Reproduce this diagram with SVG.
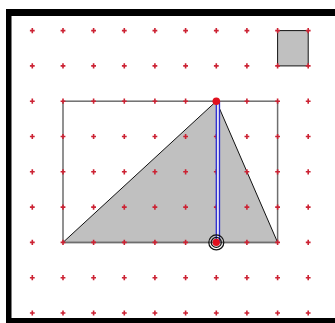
<svg xmlns="http://www.w3.org/2000/svg" xmlns:xlink="http://www.w3.org/1999/xlink" width="335" height="323" viewBox="0 0 335 323">
<style>
.dot{fill:#cc2233}
.frame{fill:#000}
.rect{fill:none;stroke:#6e6e6e;stroke-width:1.5}
.shape{fill:#c0c0c0;stroke:#111;stroke-width:1}
.blue{stroke:#2b2bd0;stroke-width:1.3}
.ring{fill:none;stroke:#111;stroke-width:1.2}
</style>
<defs>
<path id="d" class="dot" d="M-0.8,-2.6 L0.8,-2.6 L0.8,-0.8 L2.4,-0.8 L2.4,0.8 L0.8,0.8 L0.8,2.6 L-0.8,2.6 L-0.8,0.8 L-2.4,0.8 L-2.4,-0.8 L-0.8,-0.8 Z"/>
</defs>
<rect width="335" height="323" fill="#fff"/>
<g id="frame">
<rect class="frame" x="6" y="9" width="329" height="7"/>
<rect class="frame" x="6" y="9" width="5.5" height="314"/>
<rect class="frame" x="6" y="318" width="329" height="5"/>
</g>
<g id="bounding-rect">
<rect class="rect" x="63" y="101.2" width="214.6" height="141.2"/>
</g>
<g id="triangle">
<path class="shape" d="M63,242.4 L216.3,101.2 L277.6,242.4 Z"/>
<line x1="63" y1="242.4" x2="277.6" y2="242.4" stroke="#6e6e6e" stroke-width="1.5"/>
</g>
<g id="small-square">
<rect class="shape" x="277.6" y="30.6" width="30.6" height="35.3" stroke-width="1.5"/>
</g>
<g id="grid">
<use href="#d" x="32.3" y="30.6"/><use href="#d" x="63" y="30.6"/><use href="#d" x="93.6" y="30.6"/><use href="#d" x="124.3" y="30.6"/><use href="#d" x="154.9" y="30.6"/><use href="#d" x="185.6" y="30.6"/><use href="#d" x="216.3" y="30.6"/><use href="#d" x="246.9" y="30.6"/><use href="#d" x="277.6" y="30.6"/><use href="#d" x="308.2" y="30.6"/>
<use href="#d" x="32.3" y="65.9"/><use href="#d" x="63" y="65.9"/><use href="#d" x="93.6" y="65.9"/><use href="#d" x="124.3" y="65.9"/><use href="#d" x="154.9" y="65.9"/><use href="#d" x="185.6" y="65.9"/><use href="#d" x="216.3" y="65.9"/><use href="#d" x="246.9" y="65.9"/><use href="#d" x="277.6" y="65.9"/><use href="#d" x="308.2" y="65.9"/>
<use href="#d" x="32.3" y="101.2"/><use href="#d" x="63" y="101.2"/><use href="#d" x="93.6" y="101.2"/><use href="#d" x="124.3" y="101.2"/><use href="#d" x="154.9" y="101.2"/><use href="#d" x="185.6" y="101.2"/><use href="#d" x="246.9" y="101.2"/><use href="#d" x="277.6" y="101.2"/><use href="#d" x="308.2" y="101.2"/>
<use href="#d" x="32.3" y="136.5"/><use href="#d" x="63" y="136.5"/><use href="#d" x="93.6" y="136.5"/><use href="#d" x="124.3" y="136.5"/><use href="#d" x="154.9" y="136.5"/><use href="#d" x="185.6" y="136.5"/><use href="#d" x="216.3" y="136.5"/><use href="#d" x="246.9" y="136.5"/><use href="#d" x="277.6" y="136.5"/><use href="#d" x="308.2" y="136.5"/>
<use href="#d" x="32.3" y="171.8"/><use href="#d" x="63" y="171.8"/><use href="#d" x="93.6" y="171.8"/><use href="#d" x="124.3" y="171.8"/><use href="#d" x="154.9" y="171.8"/><use href="#d" x="185.6" y="171.8"/><use href="#d" x="216.3" y="171.8"/><use href="#d" x="246.9" y="171.8"/><use href="#d" x="277.6" y="171.8"/><use href="#d" x="308.2" y="171.8"/>
<use href="#d" x="32.3" y="207.1"/><use href="#d" x="63" y="207.1"/><use href="#d" x="93.6" y="207.1"/><use href="#d" x="124.3" y="207.1"/><use href="#d" x="154.9" y="207.1"/><use href="#d" x="185.6" y="207.1"/><use href="#d" x="216.3" y="207.1"/><use href="#d" x="246.9" y="207.1"/><use href="#d" x="277.6" y="207.1"/><use href="#d" x="308.2" y="207.1"/>
<use href="#d" x="32.3" y="242.4"/><use href="#d" x="63" y="242.4"/><use href="#d" x="93.6" y="242.4"/><use href="#d" x="124.3" y="242.4"/><use href="#d" x="154.9" y="242.4"/><use href="#d" x="185.6" y="242.4"/><use href="#d" x="246.9" y="242.4"/><use href="#d" x="277.6" y="242.4"/><use href="#d" x="308.2" y="242.4"/>
<use href="#d" x="32.3" y="277.7"/><use href="#d" x="63" y="277.7"/><use href="#d" x="93.6" y="277.7"/><use href="#d" x="124.3" y="277.7"/><use href="#d" x="154.9" y="277.7"/><use href="#d" x="185.6" y="277.7"/><use href="#d" x="216.3" y="277.7"/><use href="#d" x="246.9" y="277.7"/><use href="#d" x="277.6" y="277.7"/><use href="#d" x="308.2" y="277.7"/>
<use href="#d" x="32.3" y="313"/><use href="#d" x="63" y="313"/><use href="#d" x="93.6" y="313"/><use href="#d" x="124.3" y="313"/><use href="#d" x="154.9" y="313"/><use href="#d" x="185.6" y="313"/><use href="#d" x="216.3" y="313"/><use href="#d" x="246.9" y="313"/><use href="#d" x="277.6" y="313"/><use href="#d" x="308.2" y="313"/>
</g>
<g id="connectors">
<rect x="216.3" y="101.2" width="3.2" height="141.2" fill="#e4e4f4"/>
<line class="blue" x1="216.3" y1="101.2" x2="216.3" y2="242.4"/>
<line class="blue" x1="219.5" y1="101.2" x2="219.5" y2="242.4"/>
</g>
<g id="apex">
<circle cx="216.3" cy="101.2" r="3.8" fill="#e0101e"/>
</g>
<g id="base-point">
<circle class="ring" cx="216.3" cy="242.4" r="7.5"/>
<circle class="ring" cx="216.3" cy="242.4" r="5"/>
<circle cx="216.3" cy="242.4" r="3.6" fill="#e0101e"/>
</g>
</svg>
